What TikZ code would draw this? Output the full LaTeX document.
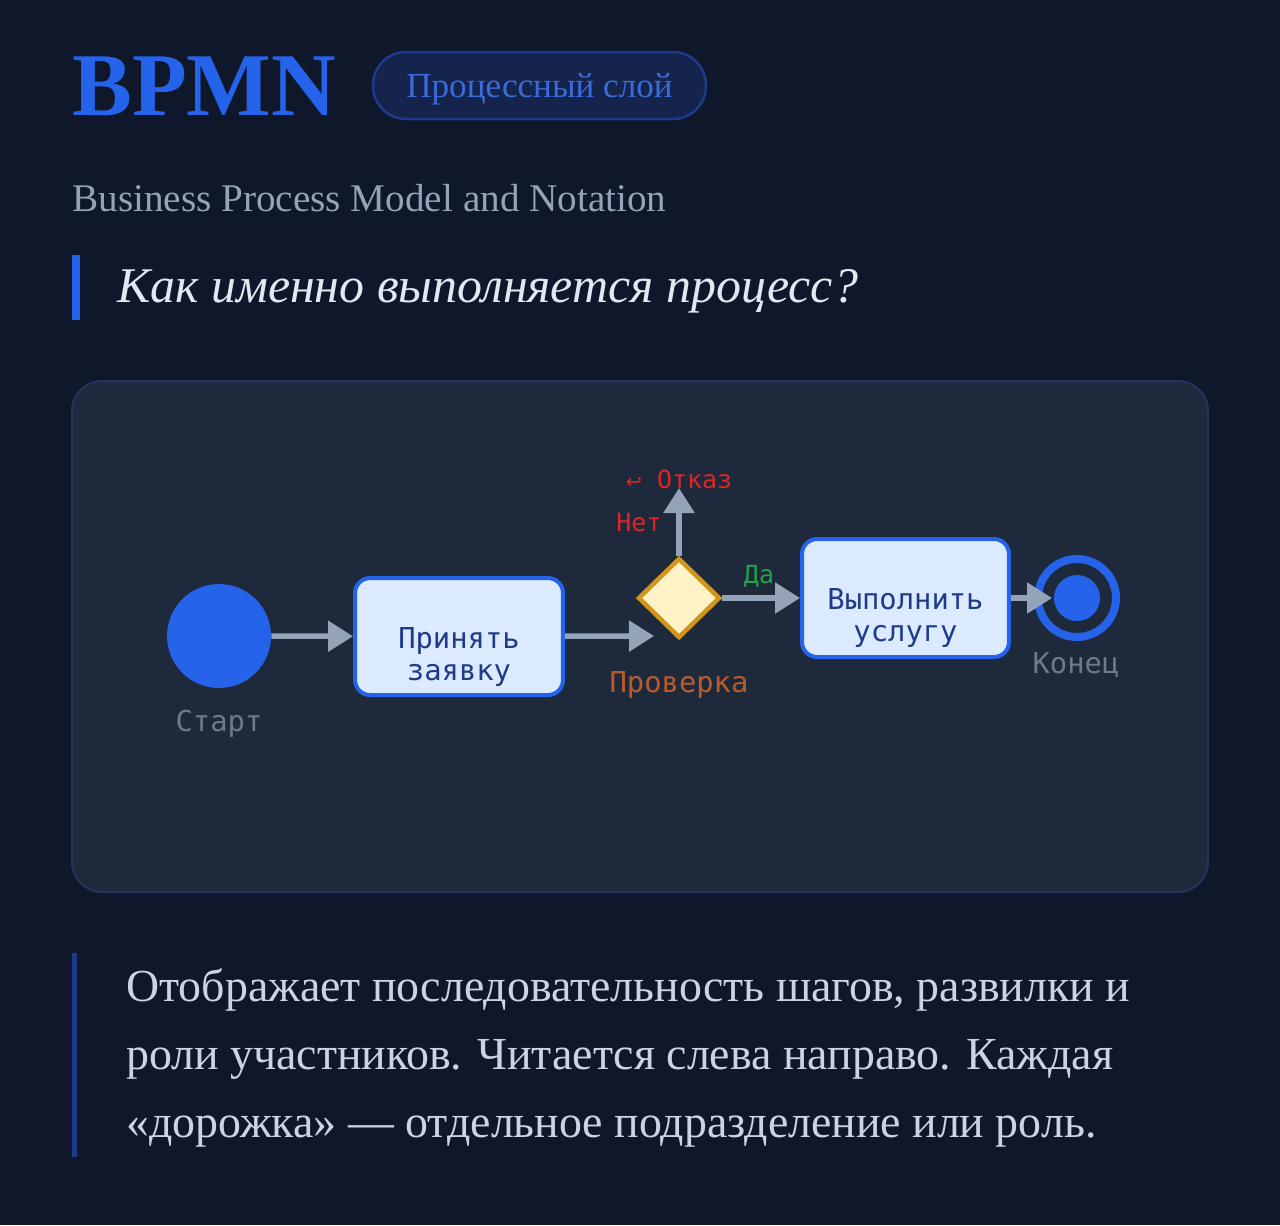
\documentclass[tikz,border=0pt]{standalone}
\usepackage{fontspec}
\setmainfont{Liberation Serif}
\newfontfamily\labelfont{DejaVu Sans Mono}
\newfontfamily\symbfont{DejaVu Sans}
\usetikzlibrary{shapes.geometric,arrows.meta}

\definecolor{pagebg}{HTML}{0F172A}
\definecolor{panelbg}{HTML}{1E293B}
\definecolor{panelline}{HTML}{23345F}
\definecolor{bpblue}{HTML}{2563EB}
\definecolor{taskfill}{HTML}{DBEAFE}
\definecolor{tasktext}{HTML}{1E3A8A}
\definecolor{flowgray}{HTML}{94A3B8}
\definecolor{gatefill}{HTML}{FEF3C7}
\definecolor{gateline}{HTML}{D0951A}
\definecolor{checktext}{HTML}{B85C2C}
\definecolor{refusered}{HTML}{DC2626}
\definecolor{yesgreen}{HTML}{22A04B}
\definecolor{mutedgray}{HTML}{6E798C}
\definecolor{subtext}{HTML}{94A3B8}
\definecolor{asktext}{HTML}{E2E8F0}
\definecolor{bodytext}{HTML}{CBD5E1}
\definecolor{pillfill}{HTML}{15244C}
\definecolor{pillline}{HTML}{1E3A8A}
\definecolor{pilltext}{HTML}{3B6BD8}

\begin{document}
\begin{tikzpicture}[x=0.02cm,y=-0.02cm,
  txt/.style={inner sep=0,anchor=base west},
  tag/.style={font=\labelfont\fontsize{16.4}{18}\selectfont},
  small/.style={font=\labelfont\fontsize{14.2}{16}\selectfont},
  task/.style={draw=bpblue,fill=taskfill,line width=0.08cm,rounded corners=0.3cm,minimum width=4.16cm,minimum height=2.34cm},
  flow/.style={draw=flowgray,line width=0.11cm,-{Triangle[length=0.5cm,width=0.6cm]}}]

\fill[pagebg] (0,0) rectangle (1280,1225);
\useasboundingbox (0,0) rectangle (1280,1225);

% header
\node[txt,text=bpblue,font=\bfseries\fontsize{51}{51}\selectfont] (title) at (72,115) {BPMN};
\node[draw=pillline,fill=pillfill,line width=0.05cm,rounded corners=0.66cm,minimum width=6.66cm,minimum height=1.34cm] (layer) at (539.5,85.5) {};
\node[text=pilltext,font=\fontsize{20}{20}\selectfont] at (539.5,89) {Процессный слой};
\node[txt,text=subtext,font=\fontsize{22.3}{22}\selectfont] (full) at (72,211) {Business Process Model and Notation};
\fill[bpblue] (72,255) rectangle (80,320);
\node[txt,text=asktext,font=\itshape\fontsize{28.4}{28}\selectfont] (ask) at (117,302) {Как именно выполняется процесс?};

% panel
\path[draw=panelline,fill=panelbg,line width=0.04cm,rounded corners=0.6cm] (72,381) rectangle (1208,892);

\node[circle,fill=bpblue,minimum size=2.08cm,inner sep=0] (start) at (219,636) {};
\node[tag,text=mutedgray] at (219,724) {Старт};

\node[task] (accept) at (459,636.5) {};
\node[tag,text=tasktext,align=center] at (459,657) {Принять\\заявку};

\node[diamond,draw=gateline,fill=gatefill,line width=0.09cm,minimum width=1.64cm,minimum height=1.6cm,inner sep=0] (check) at (679,598) {};
\node[tag,text=checktext] at (679,685) {Проверка};
\coordinate (checkin) at (654,636);
\coordinate (refuse) at (679,488);

\node[task,minimum width=4.14cm,minimum height=2.36cm] (serve) at (905.5,598) {};
\node[tag,text=tasktext,align=center] at (905.5,618) {Выполнить\\услугу};

\node[circle,draw=bpblue,line width=0.16cm,minimum size=1.56cm,inner sep=0] (finish) at (1077,598) {};
\node[circle,fill=bpblue,minimum size=0.92cm,inner sep=0] (finishcore) at (finish) {};
\coordinate (finishin) at (1052,598);
\node[tag,text=mutedgray] at (1076,665) {Конец};

\node[small,text=refusered] at (639,523) {Нет};
\node[small,text=refusered] at (679,479) {{\symbfont\fontsize{11}{12}\selectfont ↩}\ Отказ};
\node[small,text=yesgreen] at (759,576) {Да};

\path[flow] (start) -- (accept);
\path[flow] (accept) -- (checkin);
\path[flow] (check) -- (refuse);
\path[flow] (check) -- (serve);
\path[flow] (serve) -- (finishin);

% note
\fill[pillline] (72,953) rectangle (77,1157);
\node[txt,text=bodytext,font=\fontsize{26.1}{38.5}\selectfont] (note1) at (126,1001) {Отображает последовательность шагов, развилки и};
\node[txt,text=bodytext,font=\fontsize{26.1}{38.5}\selectfont] (note2) at (126,1069) {роли участников. Читается слева направо. Каждая};
\node[txt,text=bodytext,font=\fontsize{26.1}{38.5}\selectfont] (note3) at (126,1137) {«дорожка» — отдельное подразделение или роль.};
\end{tikzpicture}
\end{document}
